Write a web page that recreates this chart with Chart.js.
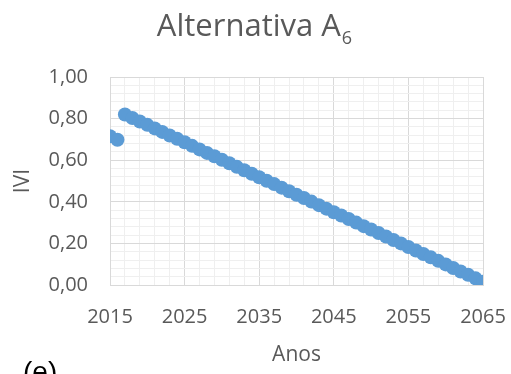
<!DOCTYPE html>
<html>
<head>
<meta charset="utf-8">
<script src="https://cdn.jsdelivr.net/npm/chart.js@4.4.1/dist/chart.umd.min.js"></script>
<style>
  html, body { margin: 0; padding: 0; background: #fff; }
  #wrap { width: 511px; height: 374px; position: relative; }
</style>
</head>
<body>
<div id="wrap"><canvas id="chart" width="511" height="374"></canvas></div>
<script>
// Data
const years = [2015, 2016, 2017, 2018, 2019, 2020, 2021, 2022, 2023, 2024, 2025,
  2026, 2027, 2028, 2029, 2030, 2031, 2032, 2033, 2034, 2035,
  2036, 2037, 2038, 2039, 2040, 2041, 2042, 2043, 2044, 2045,
  2046, 2047, 2048, 2049, 2050, 2051, 2052, 2053, 2054, 2055,
  2056, 2057, 2058, 2059, 2060, 2061, 2062, 2063, 2064, 2065];
const iviValues = [0.715, 0.698, 0.820, 0.803, 0.786, 0.770, 0.753, 0.736, 0.719, 0.703, 0.686,
  0.669, 0.652, 0.635, 0.619, 0.602, 0.585, 0.568, 0.552, 0.535, 0.518,
  0.501, 0.485, 0.468, 0.451, 0.434, 0.418, 0.401, 0.384, 0.367, 0.350,
  0.334, 0.317, 0.300, 0.283, 0.267, 0.250, 0.233, 0.216, 0.200, 0.183,
  0.166, 0.149, 0.133, 0.116, 0.099, 0.082, 0.065, 0.049, 0.032, 0.016];
const xMajorTicks = [2015, 2025, 2035, 2045, 2055, 2065];
const yMajorTicks = [0, 0.2, 0.4, 0.6, 0.8, 1.0];

const FONT = "'Open Sans', 'Liberation Sans', sans-serif";
const textColor = '#595959';
const majorGrid = '#d9d9d9';
const minorGrid = '#efefef';

// Title with subscript and the panel letter, drawn on the canvas
const extraText = {
  id: 'extraText',
  afterDraw(chart) {
    const ctx = chart.ctx;
    ctx.save();
    ctx.fillStyle = textColor;
    ctx.textBaseline = 'alphabetic';
    const main = 'Alternativa A';
    ctx.font = '31px ' + FONT;
    const w1 = ctx.measureText(main).width;
    ctx.font = '18px ' + FONT;
    const w2 = ctx.measureText('6').width;
    const x0 = 254 - (w1 + w2) / 2;
    ctx.font = '31px ' + FONT;
    ctx.fillText(main, x0, 36);
    ctx.font = '18px ' + FONT;
    ctx.fillText('6', x0 + w1 + 1, 44);
    // panel letter, cut at the bottom edge like the source
    ctx.fillStyle = '#000';
    ctx.font = "28px 'Liberation Sans', sans-serif";
    ctx.fillText('(e)', 23, 381);
    ctx.restore();
  }
};

new Chart(document.getElementById('chart'), {
  type: 'scatter',
  data: {
    datasets: [{
      data: years.map((y, i) => ({ x: y, y: iviValues[i] })),
      backgroundColor: '#5b9bd5',
      borderColor: '#5b9bd5',
      borderWidth: 0,
      pointRadius: 7,
      pointHoverRadius: 7
    }]
  },
  options: {
    responsive: false,
    animation: false,
    layout: { padding: { top: 77, right: 28, left: 0, bottom: 0 } },
    plugins: { legend: { display: false }, tooltip: { enabled: false } },
    scales: {
      x: {
        type: 'linear',
        min: 2015,
        max: 2065,
        afterFit: s => { s.height = 89; s.paddingLeft = 0; s.paddingRight = 0; },
        afterBuildTicks: s => {
          const t = [];
          for (let v = 2015; v <= 2065; v++) t.push({ value: v });
          s.ticks = t;
        },
        border: { color: majorGrid },
        grid: {
          drawTicks: false,
          color: c => {
            const d = c.tick.value - 2015;
            if (xMajorTicks.includes(c.tick.value)) return majorGrid;
            return d % 2 === 0 ? minorGrid : 'rgba(0,0,0,0)';
          }
        },
        ticks: {
          autoSkip: false,
          maxRotation: 0,
          padding: 20,
          color: textColor,
          font: { family: FONT, size: 20 },
          callback: v => xMajorTicks.includes(v) ? String(v) : ''
        },
        title: {
          display: true,
          text: 'Anos',
          color: textColor,
          font: { family: FONT, size: 21 },
          padding: { top: 0, bottom: 6 }
        }
      },
      y: {
        min: 0,
        max: 1,
        afterFit: s => { s.width = 110; s.paddingTop = 0; s.paddingBottom = 0; },
        ticks: {
          stepSize: 0.04,
          autoSkip: false,
          padding: 22,
          color: textColor,
          font: { family: FONT, size: 20 },
          callback: v => {
            const isMajor = yMajorTicks.some(m => Math.abs(m - v) < 1e-6);
            return isMajor ? v.toFixed(2).replace('.', ',') : '';
          }
        },
        border: { color: majorGrid },
        grid: {
          drawTicks: false,
          color: c => yMajorTicks.some(m => Math.abs(m - c.tick.value) < 1e-6) ? majorGrid : minorGrid
        },
        title: {
          display: true,
          text: 'IVI',
          color: textColor,
          font: { family: FONT, size: 21 },
          padding: { top: 10, bottom: 0 }
        }
      }
    }
  },
  plugins: [extraText]
});
</script>
</body>
</html>
